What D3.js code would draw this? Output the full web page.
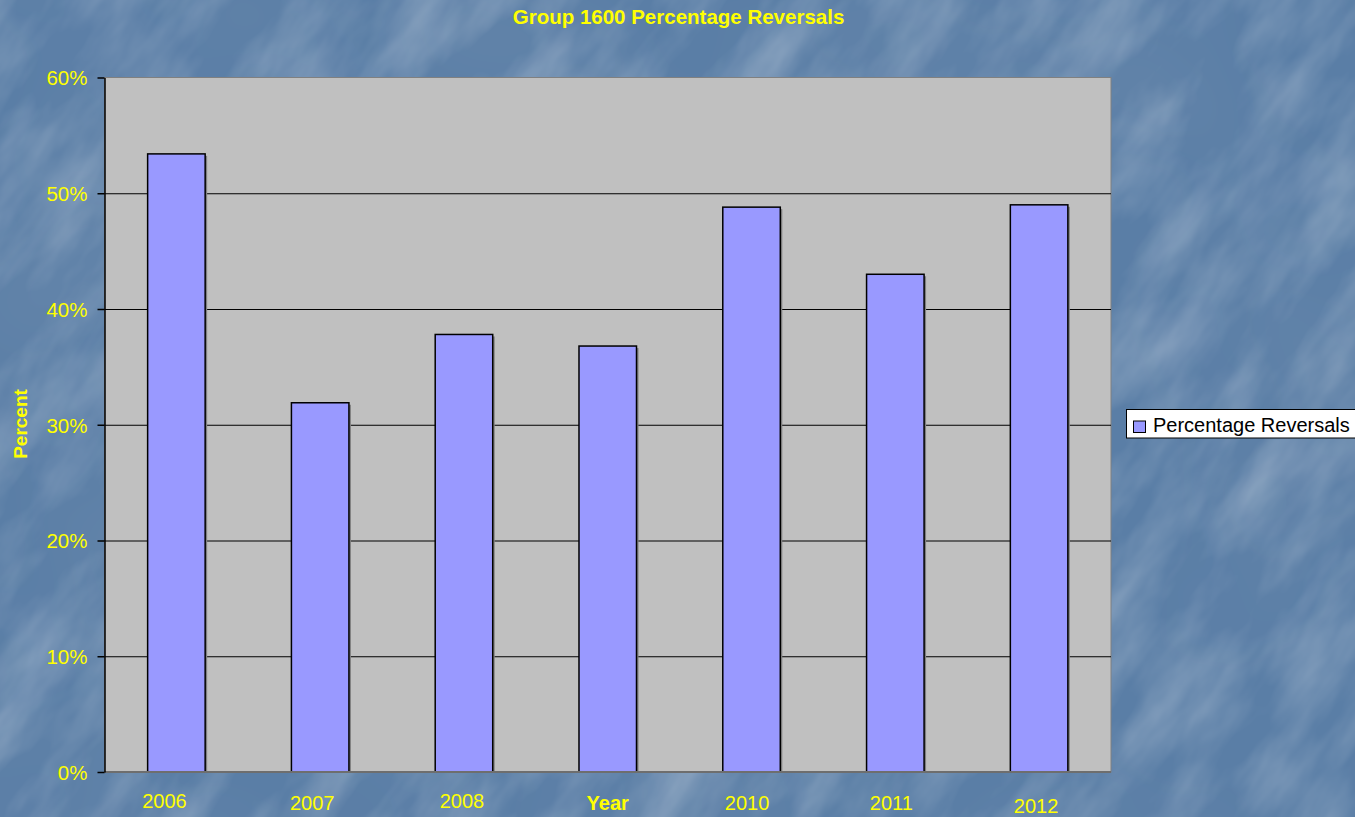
<!DOCTYPE html>
<html>
<head>
<meta charset="utf-8">
<script src="https://cdn.jsdelivr.net/npm/d3@7"></script>
<style>
  html, body { margin: 0; padding: 0; background: #587ba3; overflow: hidden; }
  svg { display: block; font-family: Arial, "Liberation Sans", sans-serif; }
</style>
</head>
<body>
<svg id="chart" width="1355" height="817"></svg>
<script>
// Chart data
const years = ["2006", "2007", "2008", "2009", "2010", "2011", "2012"];
const reversals = [0.534, 0.319, 0.378, 0.368, 0.488, 0.430, 0.490];
const yTicks = [0, 0.1, 0.2, 0.3, 0.4, 0.5, 0.6];
const seriesName = "Percentage Reversals";
const chartTitle = "Group 1600 Percentage Reversals";
const xTitle = "Year";
const yTitle = "Percent";

// Small hand nudges of the category labels, [dx, dy] in px
const labelNudge = [[-12, -1], [-8, 1], [-2, -1], [0, 0], [-4.5, 1], [-4, 0.5], [-3, 4]];

const W = 1355, H = 817;
const plot = { left: 104.5, top: 77.5, right: 1111, bottom: 772 };
const yellow = "#ffff00";

const svg = d3.select("#chart");

// Mottled blue backdrop
const defs = svg.append("defs");
const f = defs.append("filter").attr("id", "grain")
  .attr("x", 0).attr("y", 0).attr("width", 1).attr("height", 1);
f.append("feTurbulence").attr("type", "fractalNoise")
  .attr("baseFrequency", "0.008 0.02").attr("numOctaves", 4).attr("seed", 11);
f.append("feColorMatrix").attr("type", "matrix")
  .attr("values", "0 0 0 0 1  0 0 0 0 1  0 0 0 0 1  0 0 0 0.45 -0.17");

const f2 = defs.append("filter").attr("id", "shade")
  .attr("x", 0).attr("y", 0).attr("width", 1).attr("height", 1);
f2.append("feTurbulence").attr("type", "fractalNoise")
  .attr("baseFrequency", "0.005").attr("numOctaves", 2).attr("seed", 3);
f2.append("feColorMatrix").attr("type", "matrix")
  .attr("values", "0 0 0 0 0.2  0 0 0 0 0.3  0 0 0 0 0.45  0 0 0 0.5 -0.2");

svg.append("rect").attr("width", W).attr("height", H).attr("fill", "#5a7ea6");
svg.append("rect").attr("width", W).attr("height", H).attr("filter", "url(#shade)");
svg.append("g")
  .attr("transform", `translate(${W / 2},${H / 2}) rotate(-55)`)
  .append("rect")
  .attr("x", -1100).attr("y", -1100).attr("width", 2200).attr("height", 2200)
  .attr("filter", "url(#grain)");

// Scales
const x = d3.scaleBand().domain(years)
  .range([plot.left, plot.right])
  .paddingInner(0.6).paddingOuter(0.3);
const y = d3.scaleLinear().domain([0, 0.6]).range([plot.bottom, plot.top]);

// Plot area
svg.append("rect")
  .attr("x", plot.left).attr("y", plot.top)
  .attr("width", plot.right - plot.left).attr("height", plot.bottom - plot.top)
  .attr("fill", "#c0c0c0").attr("stroke", "#808080").attr("stroke-width", 1);

// Horizontal gridlines
svg.append("g")
  .attr("transform", `translate(${plot.left},0)`)
  .call(d3.axisLeft(y).tickValues(yTicks.filter(t => t > 0 && t < 0.6))
    .tickSize(-(plot.right - plot.left)).tickFormat(""))
  .call(g => g.select(".domain").remove())
  .call(g => g.selectAll("line").attr("stroke", "#000").attr("stroke-width", 1));

// Bars with a soft drop shadow
const bars = svg.append("g");
bars.selectAll("rect.shadow").data(reversals).join("rect")
  .attr("class", "shadow")
  .attr("x", (d, i) => x(years[i]) + 2)
  .attr("y", d => y(d) + 2)
  .attr("width", x.bandwidth())
  .attr("height", d => plot.bottom - y(d) - 2)
  .attr("fill", "#7f7f7f");
bars.selectAll("rect.bar").data(reversals).join("rect")
  .attr("class", "bar")
  .attr("x", (d, i) => x(years[i]))
  .attr("y", d => y(d))
  .attr("width", x.bandwidth())
  .attr("height", d => plot.bottom - y(d))
  .attr("fill", "#9999ff").attr("stroke", "#000").attr("stroke-width", 1.5);

// Bottom baseline
svg.append("line")
  .attr("x1", plot.left).attr("x2", plot.right)
  .attr("y1", plot.bottom).attr("y2", plot.bottom)
  .attr("stroke", "#6e6e6e").attr("stroke-width", 2);

// Y axis
svg.append("g")
  .attr("transform", `translate(${plot.left},0)`)
  .call(d3.axisLeft(y).tickValues(yTicks).tickFormat(d3.format(".0%"))
    .tickSize(7).tickSizeOuter(0).tickPadding(10))
  .call(g => g.select(".domain").attr("stroke", "#000").attr("stroke-width", 1.5))
  .call(g => g.selectAll(".tick line").attr("stroke", "#000").attr("stroke-width", 1.5))
  .call(g => g.selectAll(".tick text")
    .attr("fill", yellow).attr("font-size", "20.5px")
    .attr("font-family", "Arial, 'Liberation Sans', sans-serif")
    .attr("dy", "0.36em"));

// Category labels (the axis title sits in the 2009 slot)
svg.append("g").selectAll("text")
  .data(years.map((yr, i) => ({ yr, i })).filter(d => d.yr !== "2009"))
  .join("text")
  .attr("x", d => x(d.yr) + x.bandwidth() / 2 + labelNudge[d.i][0])
  .attr("y", d => 809 + labelNudge[d.i][1])
  .attr("text-anchor", "middle")
  .attr("fill", yellow).attr("font-size", "20px")
  .text(d => d.yr);

svg.append("text")
  .attr("x", x("2009") + x.bandwidth() / 2)
  .attr("y", 810)
  .attr("text-anchor", "middle")
  .attr("fill", yellow).attr("font-size", "20px").attr("font-weight", "bold")
  .text(xTitle);

svg.append("text")
  .attr("transform", "translate(26.5,424) rotate(-90)")
  .attr("text-anchor", "middle")
  .attr("fill", yellow).attr("font-size", "19px").attr("font-weight", "bold")
  .text(yTitle);

// Title
svg.append("text")
  .attr("x", 678.5).attr("y", 24)
  .attr("text-anchor", "middle")
  .attr("fill", yellow).attr("font-size", "20.5px").attr("font-weight", "bold")
  .text(chartTitle);

// Legend
const lg = svg.append("g").attr("transform", "translate(1126.5,409.5)");
lg.append("rect").attr("width", 240).attr("height", 28.5)
  .attr("fill", "#fff").attr("stroke", "#000").attr("stroke-width", 1);
lg.append("rect").attr("x", 7).attr("y", 11.5).attr("width", 12).attr("height", 11.5)
  .attr("fill", "#9999ff").attr("stroke", "#000").attr("stroke-width", 1);
lg.append("text").attr("x", 26.5).attr("y", 22.5)
  .attr("fill", "#000").attr("font-size", "20px")
  .text(seriesName);
</script>
</body>
</html>
